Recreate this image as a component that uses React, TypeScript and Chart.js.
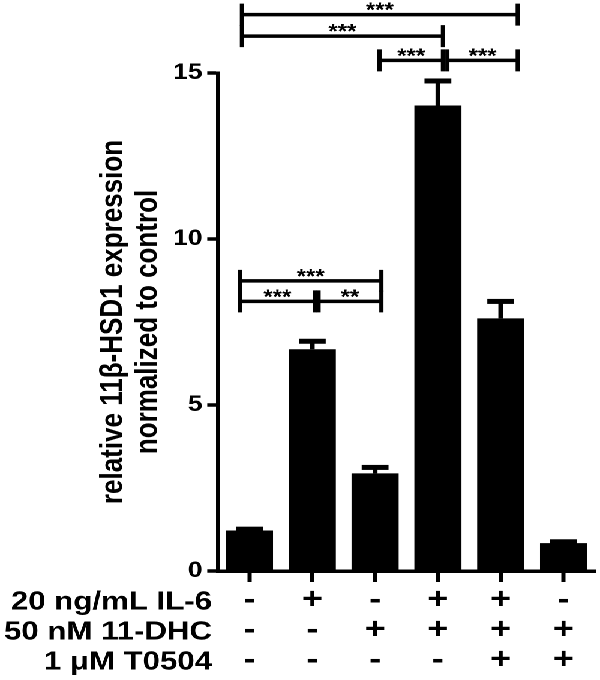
import { useEffect, useRef } from 'react';
import { Chart, registerables } from 'chart.js';

Chart.register(...registerables);

// ---- data ----
const categories = ['G1', 'G2', 'G3', 'G4', 'G5', 'G6'];
const il6Row = ['-', '+', '-', '+', '+', '-'];
const dhcRow = ['-', '-', '+', '+', '+', '+'];
const t0504Row = ['-', '-', '-', '-', '+', '+'];
const rowLabels = ['20 ng/mL IL-6', '50 nM 11-DHC', '1 μM T0504'];
const means = [1.22, 6.68, 2.94, 14.02, 7.61, 0.84];
const errors = [0.04, 0.24, 0.18, 0.74, 0.51, 0.04];
const yTicks = [0, 5, 10, 15];
const yTitle = ['relative 11β-HSD1 expression', 'normalized to control'];

// significance brackets (x in category index units, level in y value units)
const bracketStart = [-0.12, -0.12, 2.07, 3.15, -0.15, -0.15, 1.1];
const bracketEnd = [4.27, 3.08, 3.08, 4.27, 2.1, 1.04, 2.1];
const bracketLevel = [16.76, 16.11, 15.38, 15.38, 8.74, 8.12, 8.12];
const bracketText = ['***', '***', '***', '***', '***', '***', '**'];

const FONT = '"Liberation Sans", Arial, Helvetica, sans-serif';

const overlayPlugin = {
  id: 'overlay',
  afterDatasetsDraw(chart: any) {
    const ctx = chart.ctx;
    const xs = chart.scales.x;
    const ys = chart.scales.y;
    const meta = chart.getDatasetMeta(0);
    ctx.save();
    ctx.fillStyle = '#000';
    ctx.strokeStyle = '#000';
    // error bars (upper only)
    meta.data.forEach((bar: any, i: number) => {
      const { x, width } = bar.getProps(['x', 'width'], true);
      const top = ys.getPixelForValue(means[i]);
      const cap = ys.getPixelForValue(means[i] + errors[i]);
      const capW = width * 0.57;
      ctx.fillRect(x - 2, cap, 4, top - cap);
      ctx.fillRect(x - capW / 2, cap - 2.5, capW, 5);
    });
    // brackets
    ctx.lineWidth = 3.5;
    ctx.lineCap = 'butt';
    ctx.font = `bold 20px ${FONT}`;
    ctx.textAlign = 'center';
    ctx.textBaseline = 'alphabetic';
    for (let k = 0; k < bracketStart.length; k++) {
      const x1 = xs.getPixelForValue(bracketStart[k]);
      const x2 = xs.getPixelForValue(bracketEnd[k]);
      const yy = ys.getPixelForValue(bracketLevel[k]);
      ctx.beginPath();
      ctx.moveTo(x1, yy);
      ctx.lineTo(x2, yy);
      ctx.moveTo(x1, yy - 11);
      ctx.lineTo(x1, yy + 11);
      ctx.moveTo(x2, yy - 11);
      ctx.lineTo(x2, yy + 11);
      ctx.stroke();
      ctx.fillText(bracketText[k], (x1 + x2) / 2, yy + 2);
    }
    ctx.restore();
  },
  afterDraw(chart: any) {
    const ctx = chart.ctx;
    const xs = chart.scales.x;
    ctx.save();
    ctx.fillStyle = '#000';
    ctx.font = `bold 26px ${FONT}`;
    ctx.textAlign = 'right';
    ctx.textBaseline = 'alphabetic';
    const firstMid = xs.top + 11 + 3 + 15;
    rowLabels.forEach((t, r) => {
      ctx.fillText(t, 176.7, firstMid + r * 30 + 9.3);
    });
    ctx.restore();
  },
};

export default function App() {
  const ref = useRef<HTMLCanvasElement>(null);
  useEffect(() => {
    Chart.defaults.font.family = FONT;
    Chart.defaults.color = '#000';
    const chart = new Chart(ref.current as HTMLCanvasElement, {
      type: 'bar',
      data: {
        labels: categories,
        datasets: [
          {
            data: means,
            backgroundColor: '#000',
            borderWidth: 0,
            barPercentage: 0.75,
            categoryPercentage: 1,
          },
        ],
      },
      options: {
        responsive: false,
        animation: false,
        devicePixelRatio: 2,
        layout: { padding: { top: 73, right: 4.2, bottom: 0, left: 0 } },
        plugins: { legend: { display: false }, tooltip: { enabled: false } },
        scales: {
          x: {
            grid: {
              display: true,
              drawOnChartArea: false,
              drawTicks: true,
              tickLength: 11,
              tickWidth: 3.5,
              tickColor: '#000',
              offset: false,
            },
            border: { display: true, color: '#000', width: 3.5 },
            ticks: {
              autoSkip: false,
              maxRotation: 0,
              padding: 3,
              color: '#000',
              font: { size: 30, weight: 'bold', lineHeight: 1 },
              callback: (_v: any, i: number) => [il6Row[i], dhcRow[i], t0504Row[i]],
            },
            afterFit: (s: any) => {
              s.height = 109;
            },
          },
          y: {
            min: 0,
            max: 15,
            afterBuildTicks: (s: any) => {
              s.ticks = yTicks.map((v) => ({ value: v }));
            },
            ticks: {
              padding: 4,
              color: '#000',
              font: { size: 22, weight: 'bold' },
            },
            grid: {
              drawOnChartArea: false,
              tickLength: 9,
              tickWidth: 3.5,
              tickColor: '#000',
            },
            border: { display: true, color: '#000', width: 3 },
            title: {
              display: true,
              text: yTitle,
              color: '#000',
              font: { size: 26, weight: 'bold', lineHeight: 1.13 },
              padding: { top: 79.5, bottom: 0 },
            },
            afterFit: (s: any) => {
              s.width = 181.7;
            },
          },
        },
      },
      plugins: [overlayPlugin],
    } as any);
    return () => chart.destroy();
  }, []);
  return (
    <div
      style={{
        position: 'fixed',
        left: 0,
        top: 0,
        width: 500,
        height: 680,
        transform: 'scaleX(1.2)',
        transformOrigin: '0 0',
        background: '#fff',
      }}
    >
      <canvas ref={ref} width={500} height={680} />
    </div>
  );
}
